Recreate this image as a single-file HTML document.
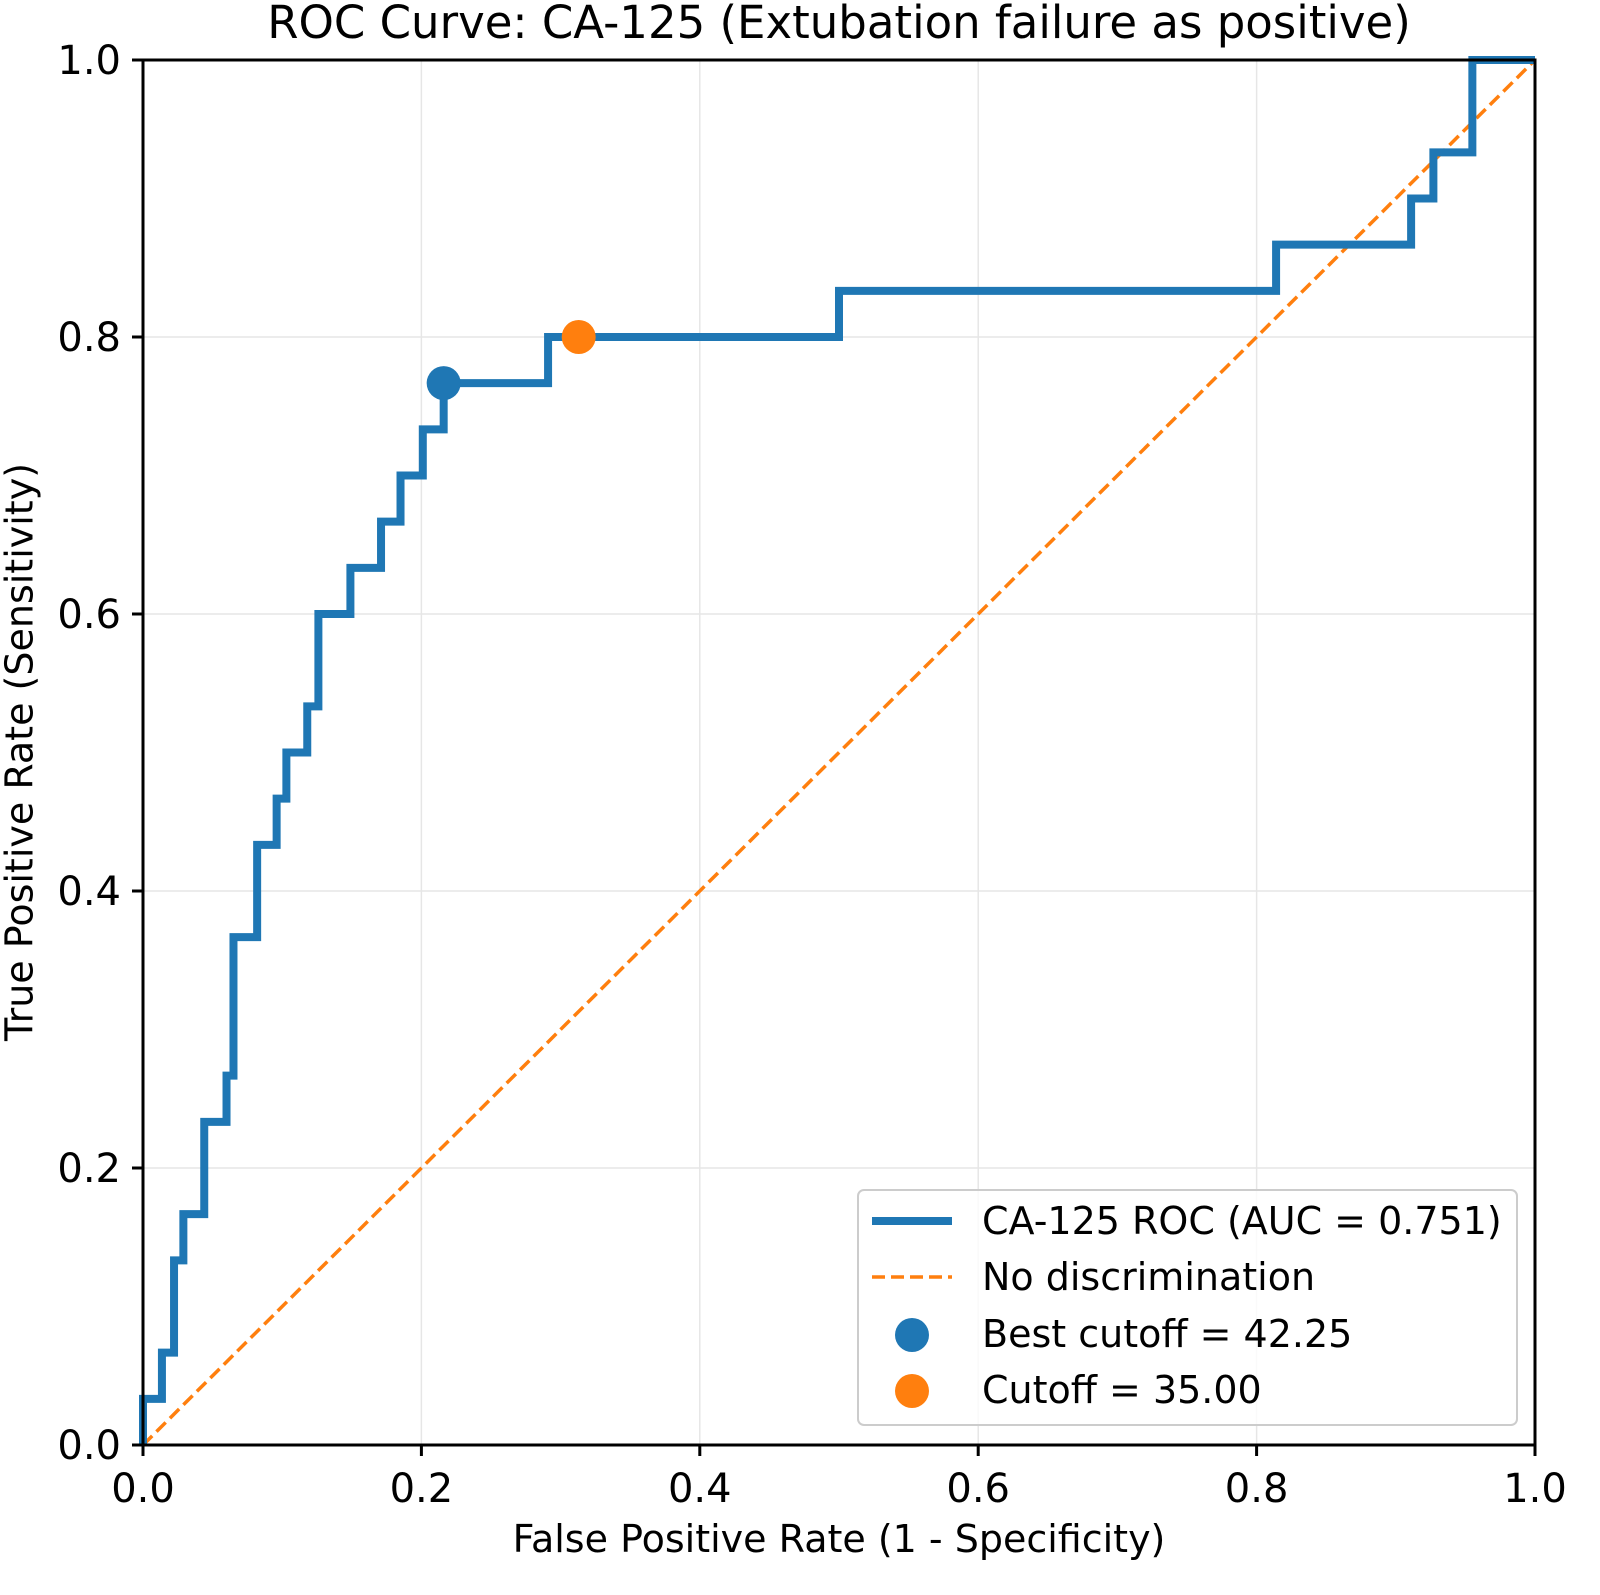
<!DOCTYPE html>
<html><head><meta charset="utf-8"><style>
html,body{margin:0;padding:0;background:#fff;}
svg{display:block;font-family:"DejaVu Sans","Liberation Sans",sans-serif;}
</style></head><body>
<svg id="chart" width="1600" height="1595" viewBox="0 0 1600 1595">
<rect x="0" y="0" width="1600" height="1595" fill="#fff"/>
<text x="839" y="38" font-size="45" text-anchor="middle" fill="#000">ROC Curve: CA-125 (Extubation failure as positive)</text>
<g id="grid"></g>
<g id="marks"></g>
<rect x="143" y="60" width="1392" height="1385" fill="none" stroke="#000" stroke-width="3"/>
<g id="ticks"></g>
<text x="839" y="1552" font-size="38" text-anchor="middle">False Positive Rate (1 - Specificity)</text>
<text transform="translate(22,752) rotate(-90)" font-size="38" text-anchor="middle" dominant-baseline="middle">True Positive Rate (Sensitivity)</text>
<g>
<rect x="858" y="1190" width="659" height="235" rx="6" fill="#fff" fill-opacity="0.8" stroke="#ccc" stroke-width="2"/>
<line x1="872" y1="1221" x2="952" y2="1221" stroke="#1f77b4" stroke-width="8"/>
<text x="982" y="1234" font-size="38">CA-125 ROC (AUC = 0.751)</text>
<line x1="872" y1="1277" x2="952" y2="1277" stroke="#ff7f0e" stroke-width="3.5" stroke-dasharray="13,6"/>
<text x="982" y="1290" font-size="38">No discrimination</text>
<circle cx="912" cy="1335" r="17" fill="#1f77b4"/>
<text x="982" y="1347" font-size="38">Best cutoff = 42.25</text>
<circle cx="912" cy="1391" r="17" fill="#ff7f0e"/>
<text x="982" y="1403" font-size="38">Cutoff = 35.00</text>
</g>
</svg>
<script>
const fprSteps=[0,0.0136,0.0223,0.029,0.044,0.06,0.065,0.082,0.096,0.103,0.118,0.126,0.149,0.171,0.185,0.201,0.216,0.291,0.5,0.814,0.911,0.927,0.955,1.0];
const tprSteps=[0.0333,0.0667,0.1333,0.1667,0.2333,0.2667,0.3667,0.4333,0.4667,0.5,0.5333,0.6,0.6333,0.6667,0.7,0.7333,0.7667,0.8,0.8333,0.8667,0.9,0.9333,1.0,1.0];
const bestPoint=[0.216,0.7667];
const cutoffPoint=[0.313,0.8];
const tickValues=[0,0.2,0.4,0.6,0.8,1.0];
const tickLabels=["0.0","0.2","0.4","0.6","0.8","1.0"];
const NS="http://www.w3.org/2000/svg";
const X=v=>143+v*1392, Y=v=>1445-v*1385;
function mk(tag,attrs,parent){const e=document.createElementNS(NS,tag);for(const k in attrs)e.setAttribute(k,attrs[k]);parent.appendChild(e);return e;}
const grid=document.getElementById('grid'),ticks=document.getElementById('ticks'),marks=document.getElementById('marks');
tickValues.forEach((t,i)=>{
 let g1=mk('line',{x1:X(t),x2:X(t),y1:60,y2:1445,stroke:'#e6e6e6','stroke-width':1.5},grid);
 
 
 let g2=mk('line',{x1:143,x2:1535,y1:Y(t),y2:Y(t),stroke:'#e6e6e6','stroke-width':1.5},grid);
 
 
 mk('line',{x1:X(t),x2:X(t),y1:1445,y2:1456,stroke:'#000','stroke-width':3},ticks);
 mk('line',{x1:132,x2:143,y1:Y(t),y2:Y(t),stroke:'#000','stroke-width':3},ticks);
 let tx=mk('text',{x:X(t),y:1502,'font-size':40,'text-anchor':'middle'},ticks);tx.textContent=tickLabels[i];
 
 
 let ty=mk('text',{x:121,y:Y(t)+14,'font-size':40,'text-anchor':'end'},ticks);ty.textContent=tickLabels[i];
 
 
});
let diag=mk('line',{x1:X(0),y1:Y(0),x2:X(1),y2:Y(1),stroke:'#ff7f0e','stroke-width':3.5,'stroke-dasharray':'13,6'},marks);


let d=`M${X(0)},${Y(0)}`;
for(let i=0;i<fprSteps.length;i++){
 d+=` H${X(fprSteps[i])} V${Y(tprSteps[i])}`;
}
let roc=mk('path',{d:d,fill:'none',stroke:'#1f77b4','stroke-width':8,'stroke-linejoin':'miter'},marks);


let b=mk('circle',{cx:X(bestPoint[0]),cy:Y(bestPoint[1]),r:17,fill:'#1f77b4'},marks);


let c=mk('circle',{cx:X(cutoffPoint[0]),cy:Y(cutoffPoint[1]),r:17,fill:'#ff7f0e'},marks);


</script>
</body></html>
